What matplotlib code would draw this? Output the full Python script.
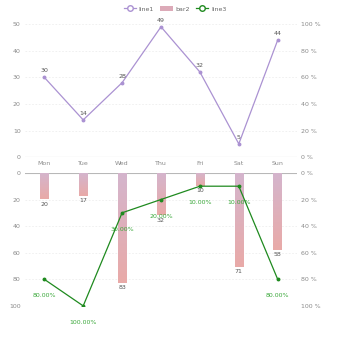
import matplotlib.pyplot as plt
import numpy as np
from matplotlib.colors import LinearSegmentedColormap
from matplotlib.lines import Line2D
from matplotlib.patches import Patch

days = ['Mon', 'Tue', 'Wed', 'Thu', 'Fri', 'Sat', 'Sun']
line1 = [30, 14, 28, 49, 32, 5, 44]
bar2 = [20, 17, 83, 32, 10, 71, 58]
line3 = [80, 100, 30, 20, 10, 10, 80]  # percent

purple = '#ab92d2'
green = '#1f8a1f'
label_green = '#3aa83a'
tick_gray = '#8a8a8a'
grid_gray = '#eeeeee'
axis_gray = '#b8b8b8'

x = np.arange(len(days))

fig = plt.figure(figsize=(3.5, 3.5), dpi=100)
ax1 = fig.add_axes([0.071, 0.551, 0.778, 0.380])
ax2 = fig.add_axes([0.071, 0.126, 0.778, 0.380])

def style(ax):
    for s in ax.spines.values():
        s.set_visible(False)
    ax.tick_params(length=0, labelsize=4.5, labelcolor=tick_gray, pad=3)
    ax.grid(axis='y', color=grid_gray, linestyle=(0, (2, 2)), linewidth=0.6)
    ax.set_axisbelow(True)

# top chart
style(ax1)
ax1.set_xlim(-0.5, 6.5)
ax1.set_ylim(0, 50)
ax1.set_yticks(range(0, 51, 10))
ax1.axhline(0, color=axis_gray, linewidth=0.8)
ax1.set_xticks(x)
ax1.set_xticklabels(days)
ax1.plot(x, line1, color=purple, linewidth=0.9, marker='o', markersize=1.8, zorder=3)
for xi, v in zip(x, line1):
    ax1.annotate(str(v), (xi, v), xytext=(0, 3), textcoords='offset points',
                 ha='center', va='bottom', fontsize=4.5, color='#555555')
ax1r = ax1.twinx()
for s in ax1r.spines.values():
    s.set_visible(False)
ax1r.set_ylim(0, 100)
ax1r.set_yticks(range(0, 101, 20))
ax1r.set_yticklabels([f'{v} %' for v in range(0, 101, 20)])
ax1r.tick_params(length=0, labelsize=4.5, labelcolor=tick_gray, pad=3)

# bottom chart
style(ax2)
ax2.set_xlim(-0.5, 6.5)
ax2.set_ylim(100, 0)
ax2.set_yticks(range(0, 101, 20))
ax2.set_xticks([])
ax2.axhline(0, color=axis_gray, linewidth=0.8)
cmap = LinearSegmentedColormap.from_list('bg', ['#d4b5cd', '#e9aaa8'])
w = 0.22
grad = np.linspace(0, 1, 100).reshape(-1, 1)
for xi, v in zip(x, bar2):
    ax2.imshow(grad, cmap=cmap, aspect='auto', extent=(xi - w / 2, xi + w / 2, v, 0),
               origin='upper', zorder=2)
    ax2.annotate(str(v), (xi, v), xytext=(0, -1.5), textcoords='offset points',
                 ha='center', va='top', fontsize=4.5, color='#555555')
ax2.set_xlim(-0.5, 6.5)
ax2.set_ylim(100, 0)

ax2r = ax2.twinx()
for s in ax2r.spines.values():
    s.set_visible(False)
ax2r.set_ylim(100, 0)
ax2r.set_yticks(range(0, 101, 20))
ax2r.set_yticklabels([f'{v} %' for v in range(0, 101, 20)])
ax2r.tick_params(length=0, labelsize=4.5, labelcolor=tick_gray, pad=3)
ax2r.plot(x, line3, color=green, linewidth=0.9, marker='o', markersize=1.8, zorder=4)
for xi, v in zip(x, line3):
    ax2r.annotate(f'{v:.2f}%', (xi, v), xytext=(0, -12), textcoords='offset points',
                  ha='center', va='center', fontsize=4.5, color=label_green)

handles = [
    Line2D([], [], color=purple, linewidth=0.9, marker='o', markersize=4,
           markerfacecolor='white', markeredgecolor=purple),
    Patch(facecolor='#dcaab8', edgecolor='none'),
    Line2D([], [], color=green, linewidth=0.9, marker='o', markersize=4,
           markerfacecolor='white', markeredgecolor=green),
]
fig.legend(handles, ['line1', 'bar2', 'line3'], loc='upper center',
           bbox_to_anchor=(0.5, 1.0), ncol=3, frameon=False, fontsize=4.5,
           handlelength=2.0, handleheight=1.0, columnspacing=1.0, handletextpad=0.4,
           labelcolor='#666666')

fig.savefig('out.png', dpi=100)
